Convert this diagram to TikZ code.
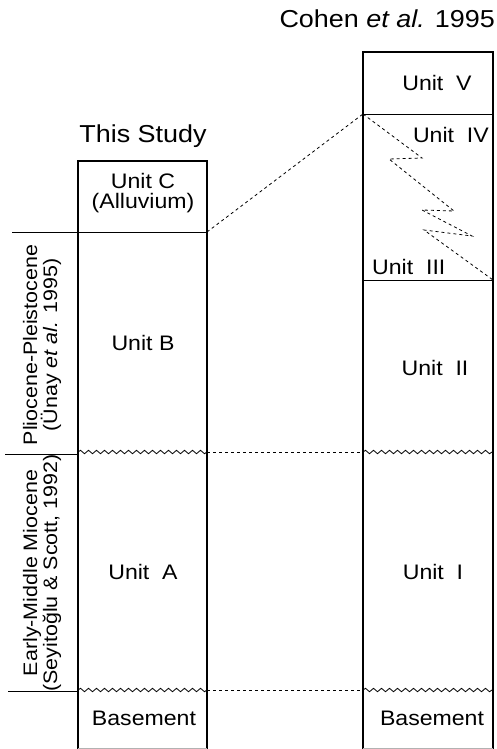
\documentclass[tikz,border=0pt]{standalone}
\usepackage{fontspec}
\setmainfont[FakeStretch=1.1]{Liberation Sans}
\usetikzlibrary{decorations.pathmorphing}
\begin{document}
\begin{tikzpicture}[x=1pt,y=-1pt,
  colbox/.style={line width=2.6pt, line cap=rect},
  thinline/.style={line width=0.9pt},
  dashline/.style={line width=0.8pt, dash pattern=on 3pt off 3pt},
  wave/.style={line width=0.8pt, decorate, decoration={snake, segment length=8pt, amplitude=1.7pt}},
  lbl/.style={font=\fontsize{21}{24}\selectfont, inner sep=0pt, align=center},
  ttl/.style={font=\fontsize{24.5}{28}\selectfont, inner sep=0pt},
  side/.style={font=\fontsize{19.5}{20}\selectfont, rotate=90, align=center, inner sep=0pt}]
\useasboundingbox (0,0) rectangle (496,749);

% coordinates
\coordinate (LTL) at (78,161);  \coordinate (LTR) at (207,161);
\coordinate (LBL) at (78,748);  \coordinate (LBR) at (207,748);
\coordinate (RTL) at (363,52);  \coordinate (RTR) at (493,52);
\coordinate (RBL) at (363,748); \coordinate (RBR) at (493,748);

\coordinate (cA) at (12,232);   \coordinate (cB) at (207,232);
\coordinate (wL1) at (78,452);  \coordinate (wR1) at (207,452);
\coordinate (wL2) at (78,690);  \coordinate (wR2) at (207,690);
\coordinate (tk1) at (5,454);   \coordinate (tk1e) at (78,454);
\coordinate (tk2) at (8,691);   \coordinate (tk2e) at (78,691);
\coordinate (rw1L) at (363,452); \coordinate (rw1R) at (493,452);
\coordinate (rw2L) at (363,690); \coordinate (rw2R) at (493,690);
\coordinate (r5L) at (363,114); \coordinate (r5R) at (493,114);
\coordinate (r3L) at (363,280); \coordinate (r3R) at (493,280);

\coordinate (z1) at (422,158); \coordinate (z2) at (389,159);
\coordinate (z3) at (454,211); \coordinate (z4) at (422,210);
\coordinate (z5) at (472,236); \coordinate (z6) at (424,230);

% columns
\draw[colbox] (LBL) -- (LTL) -- (LTR) -- (LBR);
\draw[colbox] (RBL) -- (RTL) -- (RTR) -- (RBR);
\draw[line width=0.8pt, gray!60] (LBL) -- (LBR);
\draw[line width=0.8pt, gray!60] (RBL) -- (RBR);

% horizontal boundaries
\draw[thinline] (cA) -- (cB);
\draw[thinline] (r5L) -- (r5R);
\draw[thinline] (r3L) -- (r3R);
\draw[thinline] (tk1) -- (tk1e);
\draw[thinline] (tk2) -- (tk2e);
\draw[wave] (wL1) -- (wR1);
\draw[wave] (wL2) -- (wR2);
\draw[wave] (rw1L) -- (rw1R);
\draw[wave] (rw2L) -- (rw2R);

% correlation lines
\draw[dashline] (wR1) -- (rw1L);
\draw[dashline] (wR2) -- (rw2L);
\draw[dashline] (cB) -- (r5L);
\draw[dashline] (r5L) -- (z1) -- (z2) -- (z3) -- (z4) -- (z5) -- (z6) -- (r3R);

% titles
\node[ttl] (tThis) at (143,136) {This Study};
\node[ttl, anchor=base east] (tCohen) at (495,28) {Cohen \textit{et al.} 1995};

% left column labels
\node[lbl] (uC) at (143,193) {Unit C\\[-4pt](Alluvium)};
\node[lbl] (uB) at (143,343) {Unit B};
\node[lbl] (uA) at (143,572) {Unit\ \ A};
\node[lbl] (bL) at (144,718) {Basement};

% right column labels
\node[lbl] (u5) at (437,83) {Unit\ \ V};
\node[lbl, anchor=east] (u4) at (489,135) {Unit\ \ IV};
\node[lbl, anchor=west] (u3) at (372,267) {Unit\ \ III};
\node[lbl] (u2) at (435,368) {Unit\ \ II};
\node[lbl] (u1) at (433,572) {Unit\ \ I};
\node[lbl] (bR) at (432,718) {Basement};

% side labels
\node[side] (pp) at (42,345) {Pliocene-Pleistocene\\(Ünay \textit{et al.} 1995)};
\node[side] (em) at (42,573) {Early-Middle Miocene\\(Seyitoğlu \& Scott, 1992)};
\end{tikzpicture}
\end{document}
